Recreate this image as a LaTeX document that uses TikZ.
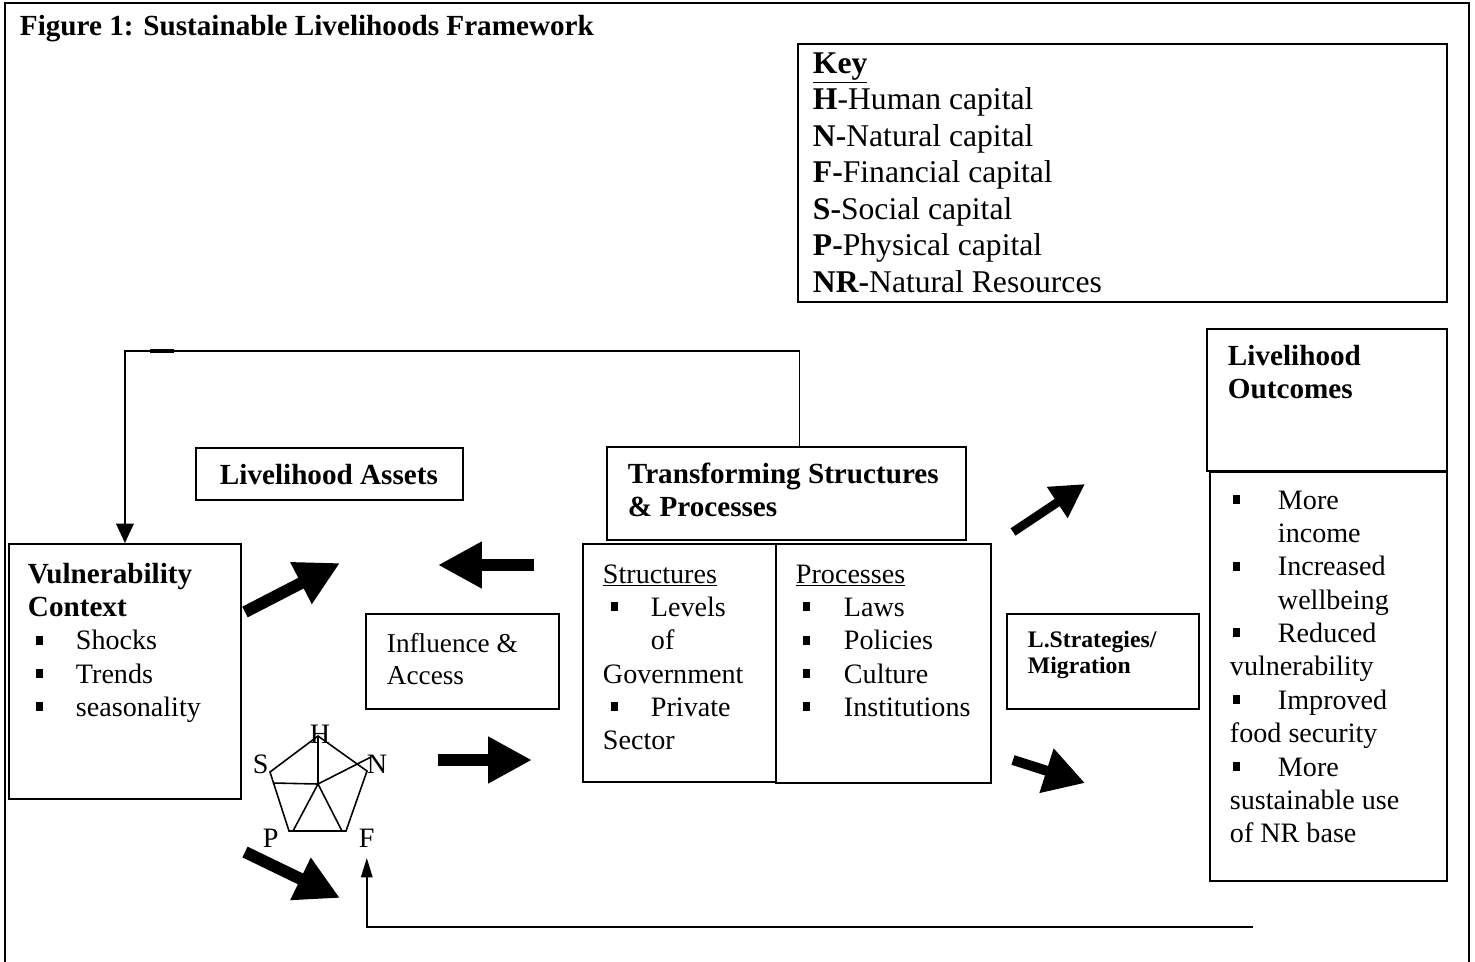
\documentclass[tikz,border=0pt]{standalone}
\usepackage{fontspec}
\setmainfont{Liberation Serif}
\usetikzlibrary{arrows.meta}

\newcommand{\bodyfont}{\fontsize{16}{19}\selectfont}
\newcommand{\headfont}{\fontsize{16.6}{19}\selectfont\bfseries}
\newcommand{\keyfont}{\fontsize{18}{20.8}\selectfont}
\newcommand{\inflfont}{\fontsize{15.5}{18.6}\selectfont}
\newcommand{\stratfont}{\fontsize{13.5}{14.8}\selectfont\bfseries}
\newcommand{\blt}[1][0.16cm]{\makebox[0.96cm][l]{\hspace*{#1}\rule[3pt]{4pt}{5pt}}}
\newcommand{\ind}{\hspace*{0.96cm}}
\newcommand{\rows}[1]{\begin{tabular}[t]{@{}l@{}}#1\end{tabular}}

\begin{document}
\begin{tikzpicture}[x=0.02cm, y=-0.02cm, line width=1.1pt,
  box/.style={draw, anchor=north west, inner sep=0pt},
  txt/.style={anchor=base west, inner sep=0pt, font=\bodyfont},
  bigarrow/.style={line width=6.8pt, -{Triangle[length=25pt, width=25pt]}},
  link/.style={line width=0.9pt, -{Triangle[length=11pt, width=10pt]}}]
  \useasboundingbox (0,0) rectangle (1475,961);
  \draw (5,3) rectangle (1469,975);
  \node[txt, font=\headfont] (title) at (19,35) {Figure 1: Sustainable Livelihoods Framework};

  % key
  \node[box, minimum width=12.98cm, minimum height=5.16cm] (key) at (797,43) {};
  \node[txt, font=\keyfont] (keytxt) at (812,73) {\rows{\underline{\textbf{Key}}\\
    \textbf{H}-Human capital\\ \textbf{N-}Natural capital\\ \textbf{F-}Financial capital\\
    \textbf{S-}Social capital\\ \textbf{P-}Physical capital\\ \textbf{NR-}Natural Resources}};

  % boxes
  \node[box, minimum width=4.64cm, minimum height=5.10cm] (vuln) at (8,543) {};
  \node[box, minimum width=5.34cm, minimum height=1.04cm] (assets) at (195,447) {};
  \node[box, minimum width=7.18cm, minimum height=1.86cm] (trans) at (606,446) {};
  \node[box, minimum width=3.86cm, minimum height=1.90cm] (infl) at (365,613) {};
  \node[box, minimum width=3.86cm, minimum height=4.76cm] (struct) at (582,543) {};
  \node[box, minimum width=4.30cm, minimum height=4.78cm] (proc) at (775,543) {};
  \node[box, minimum width=3.84cm, minimum height=1.90cm] (strat) at (1006,613) {};
  \node[box, minimum width=4.80cm, minimum height=2.84cm] (outhead) at (1206,328) {};
  \node[box, minimum width=4.74cm, minimum height=8.18cm] (outlist) at (1209,471) {};

  % texts
  \node[txt] (vulntxt) at (27,583) {\rows{{\headfont Vulnerability}\\ {\headfont Context}\\
    \blt Shocks\\ \blt Trends\\ \blt seasonality}};
  \node[txt, font=\headfont] (assetstxt) at (219,484) {Livelihood Assets};
  \node[txt, font=\headfont] (transtxt) at (627,483) {\rows{Transforming Structures\\ \& Processes}};
  \node[txt, font=\inflfont] (infltxt) at (386,652) {\rows{Influence \&\\ Access}};
  \node[txt] (structtxt) at (602,583) {\rows{\underline{Structures}\\ \blt Levels\\ \ind of\\
    Government\\ \blt Private\\ Sector}};
  \node[txt] (proctxt) at (795,583) {\rows{\underline{Processes}\\ \blt[0.14cm]Laws\\
    \blt[0.14cm]Policies\\ \blt[0.14cm]Culture\\ \blt[0.14cm]Institutions}};
  \node[txt, font=\stratfont] (strattxt) at (1027,647) {\rows{L.Strategies/\\ Migration}};
  \node[txt, font=\headfont] (outheadtxt) at (1227,365) {\rows{Livelihood\\ Outcomes}};
  \node[txt] (outlisttxt) at (1229,509) {\rows{\blt[0.06cm]More\\ \ind income\\
    \blt[0.06cm]Increased\\ \ind wellbeing\\ \blt[0.06cm]Reduced\\ vulnerability\\
    \blt[0.06cm]Improved\\ food security\\ \blt[0.06cm]More\\ sustainable use\\ of NR base}};

  % asset pentagon
  \coordinate (pH) at (318,736);
  \coordinate (pN) at (367,771);
  \coordinate (pF) at (346,831);
  \coordinate (pP) at (289,831);
  \coordinate (pS) at (270,772);
  \coordinate (pC) at (318,784);
  \draw[line width=0.9pt] (pH) -- (pN) -- (pF) -- (pP) -- (pS) -- cycle;
  \draw[line width=0.9pt] (pH) -- (pC) -- (371,757);
  \draw[line width=0.9pt] (273,783) -- (pC) -- (293,831);
  \draw[line width=0.9pt] (pC) -- (342,831);
  \node[txt, font=\bodyfont, anchor=base] (hlab) at (320,743) {H};
  \node[txt, font=\bodyfont] (slab) at (252,773) {S};
  \node[txt, font=\bodyfont] (nlab) at (366,773) {N};
  \node[txt, font=\bodyfont] (plab) at (262,847) {P};
  \node[txt, font=\bodyfont] (flab) at (358,847) {F};

  % feedback lines
  \draw[link] ([xshift=0.26cm]trans.north) -- ++(0,-95) -| (vuln.north);
  \draw[line width=2pt] (150,351) -- (174,351);
  \coordinate (ret) at (1253,927);
  \draw[link, -{Triangle[length=11pt, width=6.5pt]}] (ret) -| ([yshift=-0.2cm]flab.south);

  % big arrows
  \coordinate (a1) at (245,612);
  \coordinate (b1) at (340,563);
  \coordinate (a2) at (534,565);
  \coordinate (b2) at (438,565);
  \coordinate (a3) at (438,760);
  \coordinate (b3) at (532,760);
  \coordinate (a4) at (245,852);
  \coordinate (b4) at (340,898);
  \coordinate (a5) at (1013,532);
  \coordinate (b5) at (1085,484);
  \coordinate (a6) at (1013,760);
  \coordinate (b6) at (1085,783);
  \draw[bigarrow] (a1) -- (b1);
  \draw[bigarrow] (a2) -- (b2);
  \draw[bigarrow] (a3) -- (b3);
  \draw[bigarrow] (a4) -- (b4);
  \draw[bigarrow, line width=5pt, -{Triangle[length=19pt, width=20pt]}] (a5) -- (b5);
  \draw[bigarrow, line width=5.7pt, -{Triangle[length=23pt, width=25pt]}] (a6) -- (b6);
\end{tikzpicture}
\end{document}
